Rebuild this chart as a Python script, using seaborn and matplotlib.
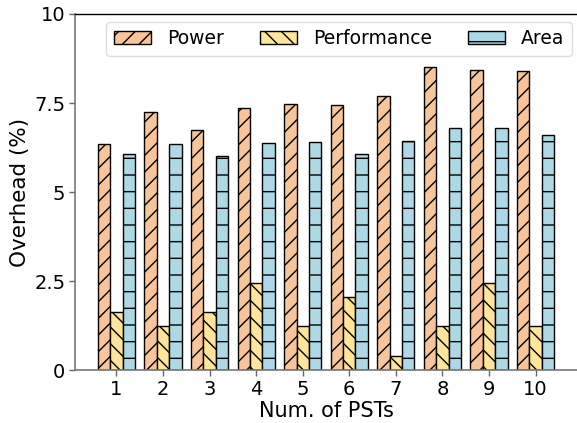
import matplotlib
matplotlib.use("Agg")
import matplotlib.pyplot as plt
from matplotlib.patches import Patch
import seaborn as sns
import pandas as pd

categories = ["1", "2", "3", "4", "5", "6", "7", "8", "9", "10"]
power = [6.36, 7.24, 6.73, 7.36, 7.46, 7.45, 7.70, 8.51, 8.44, 8.39]
performance = [1.64, 1.23, 1.64, 2.45, 1.23, 2.04, 0.41, 1.23, 2.45, 1.23]
area = [6.07, 6.36, 6.02, 6.38, 6.41, 6.06, 6.43, 6.81, 6.79, 6.60]
series_names = ["Power", "Performance", "Area"]
y_ticks = [0, 2.5, 5, 7.5, 10]
y_tick_labels = ["0", "2.5", "5", "7.5", "10"]

colors = ["#F8C49A", "#FFE59A", "#ADD8E6"]
hatches = ["//", "\\\\", "-"]

rows = []
for name, vals in zip(series_names, [power, performance, area]):
    for c, v in zip(categories, vals):
        rows.append({"PST": c, "Series": name, "Value": v})
df = pd.DataFrame(rows)

sns.set_style("white")
plt.rcParams["font.family"] = ["DejaVu Sans"]
plt.rcParams["hatch.linewidth"] = 1.0
plt.rcParams["text.color"] = "black"
plt.rcParams["axes.labelcolor"] = "black"
plt.rcParams["xtick.color"] = "black"
plt.rcParams["ytick.color"] = "black"

fig = plt.figure(figsize=(5.77, 4.23), dpi=100)
ax = fig.add_axes([0.130, 0.125, 0.870, 0.842])

sns.barplot(data=df, x="PST", y="Value", hue="Series", order=categories,
            hue_order=series_names, palette=colors, width=0.8,
            edgecolor="black", linewidth=1.0, saturation=1, ax=ax,
            legend=False)

for cont, h in zip(ax.containers, hatches):
    for p in cont.patches:
        p.set_hatch(h)
        p.set_edgecolor("black")

handles = [Patch(facecolor=c, edgecolor="black", hatch=h, label=n, linewidth=1.0)
           for c, h, n in zip(colors, hatches, series_names)]
leg = ax.legend(handles=handles, loc="upper right", ncol=3, fontsize=13.5,
                frameon=True, fancybox=True, framealpha=1,
                columnspacing=1.9, handlelength=2.0, handletextpad=0.85,
                bbox_to_anchor=(0.99, 0.978), borderaxespad=0.0,
                borderpad=0.4)
leg.get_frame().set_edgecolor("#dddddd")

ax.set_xlim(-0.89, 9.89)
ax.set_ylim(0, 10)
ax.set_yticks(y_ticks)
ax.set_yticklabels(y_tick_labels)
ax.set_xlabel("Num. of PSTs", fontsize=15, labelpad=1.5)
ax.set_ylabel("Overhead (%)", fontsize=15.5, labelpad=3)
ax.tick_params(axis="both", labelsize=14, length=4, width=1, color="#666666",
               labelcolor="black", bottom=True, left=True, pad=3)

for s in ["left", "bottom"]:
    ax.spines[s].set_color("#777777")
    ax.spines[s].set_linewidth(1.2)
ax.spines["top"].set_color("black")
ax.spines["top"].set_linewidth(1.0)
ax.spines["right"].set_visible(False)

fig.savefig("out.png", dpi=100)
